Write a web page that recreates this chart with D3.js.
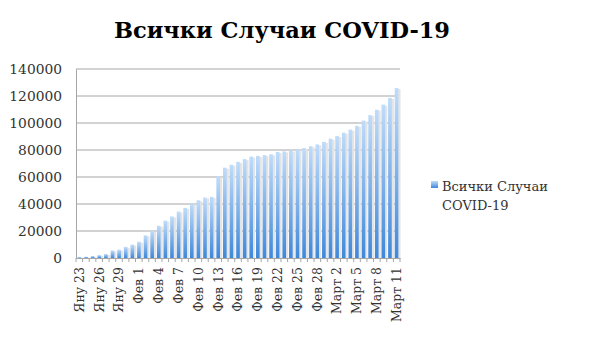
<!DOCTYPE html>
<html>
<head>
<meta charset="utf-8">
<script src="https://cdn.jsdelivr.net/npm/d3@7"></script>
<style>
  body { margin: 0; background: #fff; }
  svg text { font-family: "DejaVu Serif", "Liberation Serif", serif; }
</style>
</head>
<body>
<div id="chart"></div>
<script>
// categories (one per day, Jan 23 - Mar 11)
const days = [
  "Яну 23","Яну 24","Яну 25","Яну 26","Яну 27","Яну 28","Яну 29","Яну 30","Яну 31",
  "Фев 1","Фев 2","Фев 3","Фев 4","Фев 5","Фев 6","Фев 7","Фев 8","Фев 9","Фев 10",
  "Фев 11","Фев 12","Фев 13","Фев 14","Фев 15","Фев 16","Фев 17","Фев 18","Фев 19",
  "Фев 20","Фев 21","Фев 22","Фев 23","Фев 24","Фев 25","Фев 26","Фев 27","Фев 28","Фев 29",
  "Март 1","Март 2","Март 3","Март 4","Март 5","Март 6","Март 7","Март 8","Март 9","Март 10","Март 11"
];
// total cases
const cases = [
  650, 940, 1430, 2120, 2930, 5580, 6170, 8230, 9930,
  12040, 16790, 19880, 23890, 27640, 30790, 34390, 37120, 40150, 42760,
  44800, 45220, 60370, 66890, 69030, 71220, 73260, 75140, 75640,
  76200, 76820, 78570, 78960, 79560, 80410, 81390, 82750, 84110, 86010,
  88370, 90310, 92840, 95120, 97890, 101800, 105850, 109820, 113590, 118620, 125880
];
const yTicks = [0, 20000, 40000, 60000, 80000, 100000, 120000, 140000];
const seriesName = ["Всички Случаи", "COVID-19"];
const title = "Всички Случаи COVID-19";

const W = 593, H = 363;
const margin = { top: 69, right: 193, bottom: 105, left: 76 };

const svg = d3.select("#chart").append("svg")
    .attr("width", W)
    .attr("height", H);

const defs = svg.append("defs");
const grad = defs.append("linearGradient")
    .attr("id", "barGrad")
    .attr("x1", 0).attr("y1", 0).attr("x2", 0).attr("y2", 1);
grad.append("stop").attr("offset", "0%").attr("stop-color", "#c0dcfa");
grad.append("stop").attr("offset", "100%").attr("stop-color", "#3f88da");

const x = d3.scaleBand()
    .domain(days)
    .range([margin.left, W - margin.right])
    .paddingInner(0.45)
    .paddingOuter(0.25);

const y = d3.scaleLinear()
    .domain([0, 140000])
    .range([H - margin.bottom, margin.top]);

// gridlines
svg.append("g")
    .selectAll("line")
    .data(yTicks.slice(1))
    .join("line")
    .attr("x1", margin.left)
    .attr("x2", W - margin.right)
    .attr("y1", d => y(d))
    .attr("y2", d => y(d))
    .attr("stroke", "#a6a6a6")
    .attr("stroke-width", 1);

// bar shadows
svg.append("g")
    .selectAll("rect")
    .data(cases)
    .join("rect")
    .attr("x", (d, i) => x(days[i]) + x.bandwidth() * 0.6)
    .attr("y", d => y(d) + 1)
    .attr("width", x.bandwidth())
    .attr("height", d => y(0) - y(d) - 1)
    .attr("fill", "#e4e4e4");

// bars
svg.append("g")
    .selectAll("rect")
    .data(cases)
    .join("rect")
    .attr("x", (d, i) => x(days[i]))
    .attr("y", d => y(d))
    .attr("width", x.bandwidth())
    .attr("height", d => y(0) - y(d))
    .attr("fill", "url(#barGrad)");

// y axis
const yAxis = svg.append("g")
    .attr("transform", `translate(${margin.left},0)`)
    .call(d3.axisLeft(y).tickValues(yTicks).tickSize(0).tickPadding(14).tickFormat(d3.format("d")));
yAxis.select(".domain").attr("stroke", "#a6a6a6");
yAxis.selectAll("text")
    .style("font-size", "13.8px")
    .attr("fill", "#333");

// x axis
const xAxis = svg.append("g")
    .attr("transform", `translate(0,${y(0)})`)
    .call(d3.axisBottom(x).tickSize(0).tickFormat((d, i) => i % 3 === 0 ? d : ""));
xAxis.select(".domain").attr("stroke", "#a6a6a6");
xAxis.selectAll("text")
    .style("font-size", "12.5px")
    .attr("fill", "#333")
    .attr("text-anchor", "end")
    .attr("transform", "rotate(-90)")
    .attr("x", -9)
    .attr("y", 0)
    .attr("dy", "0.35em");

// tick marks between categories
xAxis.append("g")
    .selectAll("line")
    .data(d3.range(days.length + 1))
    .join("line")
    .attr("x1", i => margin.left + i * (W - margin.right - margin.left) / days.length)
    .attr("x2", i => margin.left + i * (W - margin.right - margin.left) / days.length)
    .attr("y1", 0)
    .attr("y2", 4)
    .attr("stroke", "#a6a6a6");

// title
svg.append("text")
    .attr("x", 282)
    .attr("y", 38)
    .attr("text-anchor", "middle")
    .style("font-size", "22.5px")
    .style("font-weight", "bold")
    .attr("fill", "#000")
    .text(title);

// legend
const legend = svg.append("g").attr("transform", "translate(431,181)");
legend.append("rect")
    .attr("width", 7).attr("height", 7)
    .attr("fill", "url(#barGrad)");
legend.selectAll("text")
    .data(seriesName)
    .join("text")
    .attr("x", 11)
    .attr("y", (d, i) => 10 + i * 19)
    .style("font-size", "13px")
    .attr("fill", "#333")
    .text(d => d);
</script>
</body>
</html>
